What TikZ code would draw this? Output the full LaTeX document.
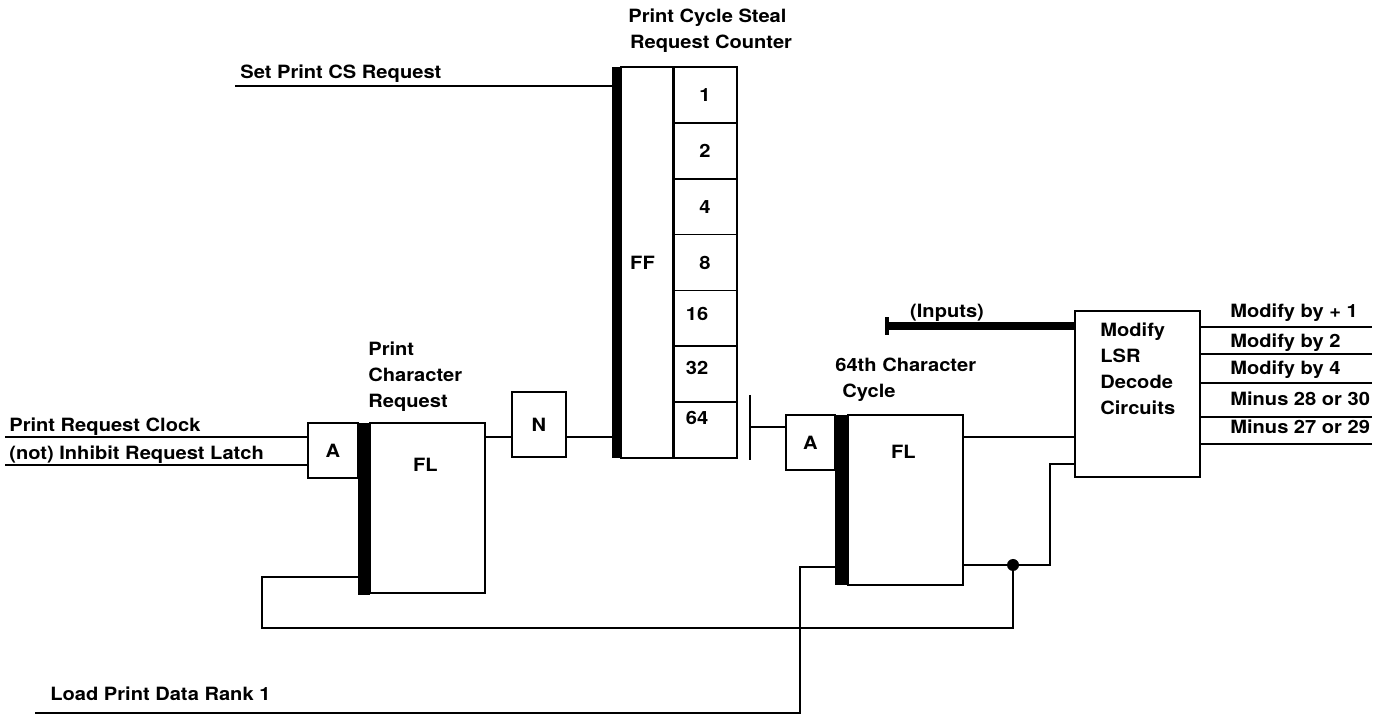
\documentclass[tikz,border=0pt]{standalone}
\usepackage{fontspec}
\setmainfont{TeX Gyre Heros}[FakeStretch=1.1]
\usetikzlibrary{arrows.meta}

\begin{document}
\begin{tikzpicture}[x=0.02cm, y=-0.02cm,
        box/.style={draw, line width=1pt, inner sep=0pt, outer sep=0pt, anchor=north west},
        bar/.style={fill=black, inner sep=0pt, outer sep=0pt, anchor=north west},
        wire/.style={line width=1pt},
        lbl/.style={font=\bfseries\fontsize{10.4}{14.8}\selectfont, inner sep=0pt}]
        \useasboundingbox (0,0) rectangle (1380,715);

        \coordinate (clk) at (5,437);
        \coordinate (inh) at (5,465);
        \coordinate (set) at (235,86);
        \coordinate (load) at (35,713);
        \coordinate (loadup) at (800,567);
        \coordinate (tick) at (750,427);
        \coordinate (tickT) at (750,395);
        \coordinate (tickB) at (750,460);
        \coordinate (fbL) at (262,628);
        \coordinate (jog) at (1050,464);
        \coordinate (busL) at (885,326);

        % print character request latch
        \node[box, lbl, minimum width=1cm, minimum height=1.1cm] (A1) at (308,423) {A};
        \node[bar, minimum width=0.24cm, minimum height=3.44cm] (B1) at (358,423) {};
        \node[box, minimum width=2.3cm, minimum height=3.4cm] (FL1) at (370,423) {};
        \node[box, lbl, minimum width=1.08cm, minimum height=1.3cm] (N) at (512,392) {N};

        % counter
        \node[bar, minimum width=0.18cm, minimum height=7.82cm] (B0) at (612,67) {};
        \node[box, minimum width=1.06cm, minimum height=7.82cm] (FF) at (621,67) {};
        \path (FF) ++(-5,0) node[lbl] {FF};
        \foreach \v/\dx/\dy [count=\i from 0] in {1/0/0, 2/0/0, 4/0/0, 8/0/0, 16/-8/-4, 32/-8/-6, 64/-8/-12} {
            \node[box, minimum width=1.28cm, minimum height=1.117cm] (c\v) at (673,67+55.86*\i) {};
            \path (c\v) ++(\dx,\dy) node[lbl] {\v};
        }

        % 64th character cycle latch
        \node[box, lbl, minimum width=0.98cm, minimum height=1.1cm] (A2) at (786,415) {A};
        \node[bar, minimum width=0.26cm, minimum height=3.4cm] (B2) at (835,415) {};
        \node[box, minimum width=2.3cm, minimum height=3.4cm] (FL2) at (848,415) {};

        \node[box, minimum width=2.5cm, minimum height=3.32cm] (dec) at (1075,311) {};
        \node[circle, fill=black, inner sep=0pt, minimum size=0.24cm] (dot) at (1013,565) {};

        \path (FL1.north) ++(-2,42) node[lbl] {FL};
        \path (FL2.north) ++(-2,37) node[lbl] {FL};

        % wires
        \draw[wire] (clk) -- (A1.west |- clk);
        \draw[wire] (inh) -- (A1.west |- inh);
        \draw[wire] (set) -- (B0.west |- set);
        \draw[wire] (FL1.east |- 0,437) -- (N.west |- 0,437);
        \draw[wire] (N.east |- 0,437) -- (B0.west |- 0,437);
        \draw[wire] (tickT) -- (tickB);
        \draw[wire] (tick) -- (A2.west |- tick);
        \draw[wire] (FL2.east |- 0,437) -- (dec.west |- 0,437);
        \draw[wire] (FL2.east |- dot) -- (dot) -- (jog |- dot) -- (jog) -- (dec.west |- jog);
        \draw[wire] (B1.west |- 0,577) -- (fbL |- 0,577) -- (fbL) -- (dot |- fbL) -- (dot);
        \draw[wire] (load) -- (loadup |- load) -- (loadup) -- (B2.west |- loadup);
        \draw[line width=4.5pt, {Bar[width=10pt, line width=2pt]}-] (busL) -- (dec.west |- busL);

        \foreach \y/\b/\t [count=\i] in {327/318/Modify by + 1, 354/348/Modify by 2,
                383/375/Modify by 4, 417/406/Minus 28 or 30, 444/434/Minus 27 or 29} {
            \coordinate (o\i) at (1372,\y);
            \draw[wire] (dec.east |- o\i) -- (o\i);
            \node[lbl, anchor=base west] at (1230,\b) {\t};
        }

        % texts
        \node[lbl, anchor=base west] (tclk) at (9,432) {Print Request Clock};
        \node[lbl, anchor=base west] (tinh) at (9,460) {(not) Inhibit Request Latch};
        \node[lbl, anchor=base west] (tset) at (240,79) {Set Print CS Request};
        \node[lbl, anchor=base west] (tload) at (50,701) {Load Print Data Rank 1};
        \node[lbl, align=left, anchor=west] (tpcr) at (368,377) {Print\\Character\\Request};
        \node[lbl, align=left, anchor=west] (tctr) at (628,31) {Print Cycle Steal\\\hspace{1pt}Request Counter};
        \node[lbl, align=left, anchor=west] (t64) at (835,380) {64th Character\\\hspace{4pt}Cycle};
        \node[lbl] (tin) at (947,313) {(Inputs)};
        \node[lbl, align=left, anchor=west] (tdec) at (1100,369) {Modify\\LSR\\Decode\\Circuits};
\end{tikzpicture}
\end{document}
